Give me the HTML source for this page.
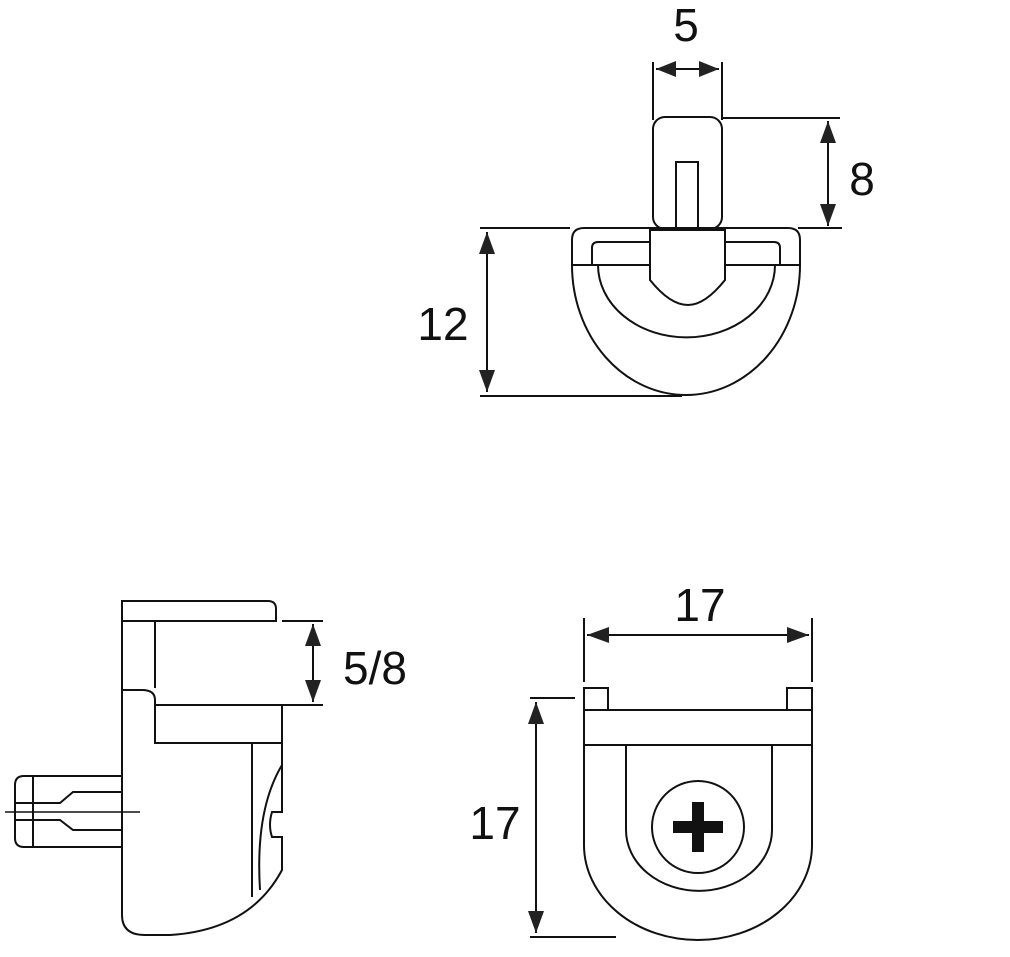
<!DOCTYPE html>
<html><head><style>html,body{margin:0;padding:0;background:#fff}svg{display:block}</style></head>
<body>
<svg width="1010" height="957" viewBox="0 0 1010 957" xmlns="http://www.w3.org/2000/svg">
<defs>
<marker id="b" viewBox="0 0 22 16" refX="22" refY="8" markerWidth="22" markerHeight="16" markerUnits="userSpaceOnUse" orient="auto-start-reverse"><path d="M0,0 L22,8 L0,16 Z" fill="#222"/></marker>
<marker id="c" viewBox="0 0 20 16" refX="20" refY="8" markerWidth="20" markerHeight="16" markerUnits="userSpaceOnUse" orient="auto-start-reverse"><path d="M0,0 L20,8 L0,16 Z" fill="#222"/></marker>
</defs>
<g fill="none" stroke="#111" stroke-width="2">
<!-- Top view -->
<line x1="653" y1="62" x2="653" y2="120"/><line x1="722" y1="62" x2="722" y2="120"/>
<line x1="656" y1="69" x2="719" y2="69" marker-start="url(#c)" marker-end="url(#c)"/>
<rect x="653" y="117" width="69" height="112" rx="12"/>
<path d="M676,229 V162 H698 V229"/>
<line x1="722" y1="118" x2="840" y2="118"/>
<line x1="828" y1="121" x2="828" y2="226" marker-start="url(#b)" marker-end="url(#b)"/>
<line x1="798" y1="228" x2="842" y2="228"/>
<line x1="480" y1="228" x2="570" y2="228"/>
<path d="M572,265 V240 Q572,228 584,228 H788 Q800,228 800,240 V265 Z"/>
<path d="M572,265 A114,130 0 0 0 800,265"/>
<path d="M592,265 V248 Q592,242 598,242 H774 Q780,242 780,248 V265"/>
<path d="M598,265 A88,72 0 0 0 775,265"/>
<path d="M650,265 V230 H725 V280 Q705,305 688,305 Q670,305 650,280 Z" fill="#fff"/>
<line x1="487" y1="232" x2="487" y2="392" marker-start="url(#b)" marker-end="url(#b)"/>
<line x1="480" y1="396" x2="682" y2="396"/>
<!-- Side view -->
<path d="M122,621 V601 H268 Q276,601 276,609 V621 Z"/>
<line x1="282" y1="621" x2="323" y2="621"/><line x1="282" y1="705" x2="323" y2="705"/>
<line x1="313" y1="624" x2="313" y2="702" marker-start="url(#b)" marker-end="url(#b)"/>
<line x1="155" y1="621" x2="155" y2="688"/>
<path d="M122,690 H142 Q155,690 155,700 V743 H282 V705 H155"/>
<path d="M122,621 V915 Q122,935 145,935 H170 Q250,930 282,870 V837 H272 Q268,825 272,812 H282 V743"/>
<line x1="252" y1="743" x2="252" y2="897"/>
<path d="M282,765 Q255,810 260,890"/>
<path d="M122,776 H24 Q15,776 15,785 V838 Q15,847 24,847 H122"/>
<line x1="33" y1="776" x2="33" y2="847"/>
<path d="M15,803 H60 L73,792 H122 M15,820 H60 L73,830 H122"/>
<line x1="5" y1="812" x2="140" y2="812" stroke-width="1.5"/>
<!-- Front view -->
<line x1="584" y1="618" x2="584" y2="682"/><line x1="812" y1="618" x2="812" y2="682"/>
<line x1="587" y1="635" x2="809" y2="635" marker-start="url(#b)" marker-end="url(#b)"/>
<rect x="584" y="688" width="24" height="22"/><rect x="787" y="688" width="25" height="22"/>
<rect x="584" y="710" width="228" height="35"/>
<path d="M584,745 V845 A114,95 0 0 0 812,845 V745"/>
<path d="M626,745 V830 A72,60 0 0 0 772,830 V745"/>
<circle cx="698" cy="827" r="46"/>
<line x1="530" y1="698" x2="575" y2="698"/><line x1="530" y1="937" x2="616" y2="937"/>
<line x1="536" y1="702" x2="536" y2="933" marker-start="url(#b)" marker-end="url(#b)"/>
</g>
<path d="M692,802 h12 v19 h19 v12 h-19 v19 h-12 v-19 h-19 v-12 h19 z" fill="#111"/>
<g font-family="Liberation Sans, sans-serif" font-size="46" fill="#111" text-anchor="middle">
<text x="686" y="41">5</text>
<text x="862" y="195">8</text>
<text x="443" y="340">12</text>
<text x="375" y="684">5/8</text>
<text x="700" y="621">17</text>
<text x="495" y="839">17</text>
</g>
</svg>
</body></html>
